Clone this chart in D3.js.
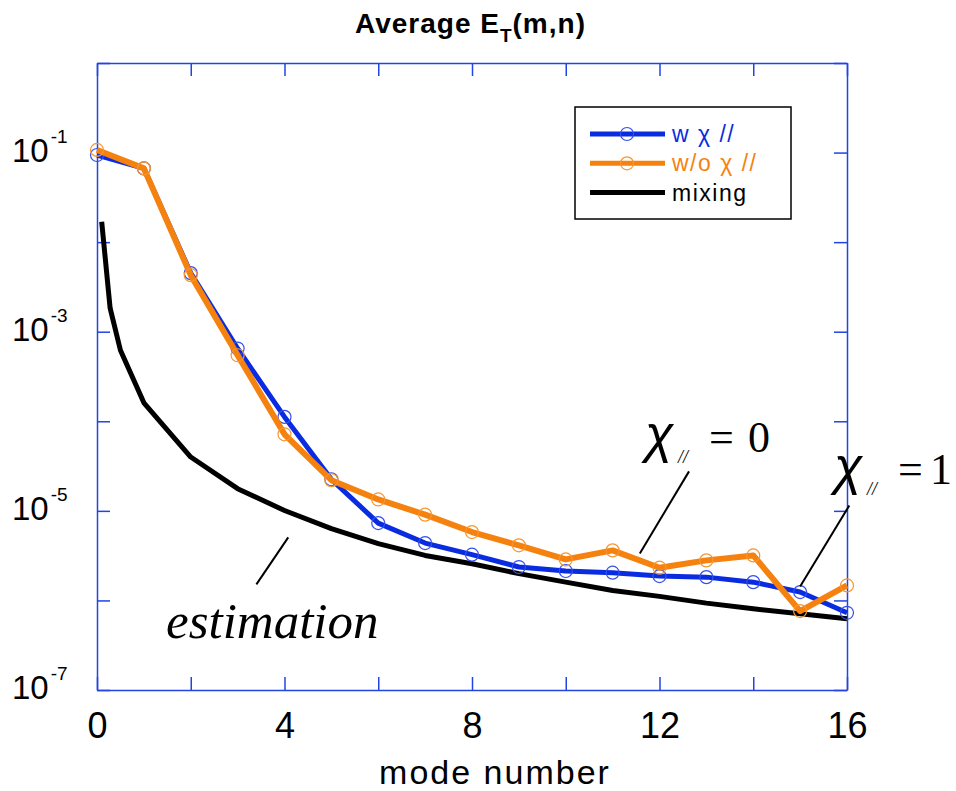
<!DOCTYPE html>
<html>
<head>
<meta charset="utf-8">
<script src="https://cdn.jsdelivr.net/npm/d3@7"></script>
<style>
  body { margin: 0; background: #fff; }
  text { font-family: "Liberation Sans", Arial, sans-serif; }
  .serif { font-family: "Liberation Serif", "Times New Roman", serif; }
</style>
</head>
<body>
<div id="container"></div>
<script>
/* DATA */
const modes = [0, 1, 2, 3, 4, 5, 6, 7, 8, 9, 10, 11, 12, 13, 14, 15, 16]
const wChi = [0.094, 0.0666, 0.00451, 6.49e-4, 1.12e-4, 2.25e-5, 7.3e-6, 4.37e-6, 3.24e-6,
  2.36e-6, 2.13e-6, 2.04e-6, 1.87e-6, 1.82e-6, 1.6e-6, 1.24e-6, 7.28e-7]
const woChi = [0.107, 0.0666, 0.00428, 5.46e-4, 7.16e-5, 2.2e-5, 1.34e-5, 9.07e-6, 5.8e-6,
  4.12e-6, 2.87e-6, 3.62e-6, 2.32e-6, 2.8e-6, 3.18e-6, 7.6e-7, 1.47e-6]
const mixModes = [0.1, 0.28, 0.5, 1, 2, 3, 4, 5, 6, 7, 8, 9, 10, 11, 12, 13, 14, 15, 16]
const mixing = [1.69e-2, 1.83e-3, 6.21e-4, 1.61e-4, 3.99e-5, 1.77e-5, 1.01e-5, 6.33e-6, 4.3e-6,
  3.18e-6, 2.57e-6, 1.99e-6, 1.6e-6, 1.29e-6, 1.11e-6, 9.33e-7, 8.07e-7, 7.1e-7, 6.24e-7]
const xTicks = [0, 2, 4, 6, 8, 10, 12, 14, 16]
const yTicks = [1e-7, 1e-6, 1e-5, 1e-4, 1e-3, 1e-2, 1e-1, 1]
const yLabels = [[1e-1, "-1"], [1e-3, "-3"], [1e-5, "-5"], [1e-7, "-7"]]
const legendNames = ["w χ //", "w/o χ //", "mixing"]

/* CONSTANTS */
const width = 956, height = 791,
  margin = {top: 63, left: 97, bottom: 101, right: 110}
const axisColor = "#2244e0"
const blue = "#0a2ce0", orange = "#f5820f"

const svg = d3.select("#container")
  .append("svg")
  .attr("width", width)
  .attr("height", height)

// SCALES
const xScale = d3.scaleLinear()
  .domain([0, 16])
  .range([margin.left, width - margin.right + 1])

const yScale = d3.scaleLog()
  .domain([1e-7, 1])
  .range([height - margin.bottom, margin.top])

// AXES (ticks point inward on all four sides)
const tick = 13
svg.append("g")
  .attr("transform", `translate(0,${height - margin.bottom})`)
  .call(d3.axisBottom(xScale).tickValues(xTicks).tickSizeInner(-tick).tickSizeOuter(0)
    .tickPadding(22).tickFormat(d => d % 4 === 0 ? d : ""))
  .call(g => g.selectAll("text").attr("font-size", 36).attr("fill", "#000")
    .attr("font-family", "Liberation Sans, Arial, sans-serif"))
svg.append("g")
  .attr("transform", `translate(0,${margin.top})`)
  .call(d3.axisTop(xScale).tickValues(xTicks).tickSizeInner(-tick).tickSizeOuter(0).tickFormat(""))
svg.append("g")
  .attr("transform", `translate(${margin.left},0)`)
  .call(d3.axisLeft(yScale).tickValues(yTicks).tickSizeInner(-tick).tickSizeOuter(0).tickFormat(""))
svg.append("g")
  .attr("transform", `translate(${xScale(16)},0)`)
  .call(d3.axisRight(yScale).tickValues(yTicks).tickSizeInner(-tick).tickSizeOuter(0).tickFormat(""))

svg.selectAll(".domain, .tick line")
  .attr("stroke", axisColor)
  .attr("stroke-width", 1.5)

// y labels as 10^n
const yl = svg.selectAll(".ylab")
  .data(yLabels)
  .join("text")
  .attr("class", "ylab")
  .attr("x", 12)
  .attr("y", d => yScale(d[0]) + 9)
  .attr("font-size", 33)
yl.append("tspan").text("10")
yl.append("tspan").attr("dy", -19).attr("dx", 2).attr("font-size", 19).text(d => d[1])

// LINES
const line = d3.line()
  .x(d => xScale(d[0]))
  .y(d => yScale(d[1]))

svg.append("path")
  .attr("d", line(d3.zip(mixModes, mixing)))
  .attr("fill", "none")
  .attr("stroke", "#000")
  .attr("stroke-width", 5)
  .attr("stroke-linejoin", "round")

const series = [
  {vals: wChi, color: blue, mark: "#3550ea", w: 5},
  {vals: woChi, color: orange, mark: "#f7962e", w: 6}
]
series.forEach(s => {
  const pts = d3.zip(modes, s.vals)
  svg.append("path")
    .attr("d", line(pts))
    .attr("fill", "none")
    .attr("stroke", s.color)
    .attr("stroke-width", s.w)
    .attr("stroke-linejoin", "round")
  svg.selectAll(null)
    .data(pts)
    .join("circle")
    .attr("cx", d => xScale(d[0]))
    .attr("cy", d => yScale(d[1]))
    .attr("r", 6.5)
    .attr("fill", "none")
    .attr("stroke", s.mark)
    .attr("stroke-width", 1.2)
})

// TITLE AND AXIS LABEL
const title = svg.append("text")
  .attr("x", 355).attr("y", 33)
  .attr("font-size", 28).attr("font-weight", "bold")
  .attr("letter-spacing", 1)
title.append("tspan").text("Average E")
title.append("tspan").attr("dy", 9).attr("font-size", 19).text("T")
title.append("tspan").attr("dy", -9).text("(m,n)")

svg.append("text")
  .attr("x", 495).attr("y", 784)
  .attr("text-anchor", "middle")
  .attr("font-size", 34)
  .attr("letter-spacing", 2)
  .text("mode number")

// LEGEND
const lg = svg.append("g")
lg.append("rect")
  .attr("x", 575).attr("y", 107).attr("width", 216).attr("height", 112)
  .attr("fill", "#fff").attr("stroke", "#000").attr("stroke-width", 1.5)
const legendColors = [blue, orange, "#000"]
const legendMarks = ["#3550ea", "#f7962e", null]
legendNames.forEach((name, i) => {
  const y = 134 + i * 29.3
  lg.append("line")
    .attr("x1", 590).attr("x2", 665).attr("y1", y).attr("y2", y)
    .attr("stroke", legendColors[i]).attr("stroke-width", 5)
  if (legendMarks[i]) {
    lg.append("circle").attr("cx", 627).attr("cy", y).attr("r", 6.5)
      .attr("fill", "none").attr("stroke", legendMarks[i]).attr("stroke-width", 1.2)
  }
  lg.append("text")
    .attr("x", 672).attr("y", y + 8)
    .attr("font-size", 23)
    .attr("letter-spacing", 1.5)
    .attr("fill", i === 2 ? "#000" : legendColors[i])
    .text(name)
})

// ANNOTATIONS
const pointers = [
  [[4.08, 5.06e-6], [3.40, 1.51e-6]],
  [[12.63, 2.76e-5], [11.58, 3.35e-6]],
  [[16.05, 1.15e-5], [15.0, 1.43e-6]]
]
svg.selectAll(".ptr")
  .data(pointers)
  .join("line")
  .attr("class", "ptr")
  .attr("x1", d => xScale(d[0][0])).attr("y1", d => yScale(d[0][1]))
  .attr("x2", d => xScale(d[1][0])).attr("y2", d => yScale(d[1][1]))
  .attr("stroke", "#000").attr("stroke-width", 2)

svg.append("text").attr("class", "serif")
  .attr("x", 166).attr("y", 638)
  .attr("font-size", 51).attr("font-style", "italic")
  .text("estimation")

function chiLabel(x, y, val, gap) {
  const g = svg.append("g")
  g.append("text").attr("x", x).attr("y", y)
    .attr("font-family", "DejaVu Serif, serif")
    .attr("font-size", 52).attr("font-style", "italic").text("χ")
  g.append("text").attr("class", "serif").attr("x", x + 33).attr("y", y + 11)
    .attr("font-size", 18).attr("font-style", "italic").text("//")
  g.append("text").attr("class", "serif").attr("x", x + 64).attr("y", y)
    .attr("font-size", 44).text("=")
  g.append("text").attr("class", "serif").attr("x", x + gap).attr("y", y)
    .attr("font-size", 44).text(val)
}
chiLabel(645, 452, "0", 103)
chiLabel(834, 484, "1", 96)
</script>
</body>
</html>
